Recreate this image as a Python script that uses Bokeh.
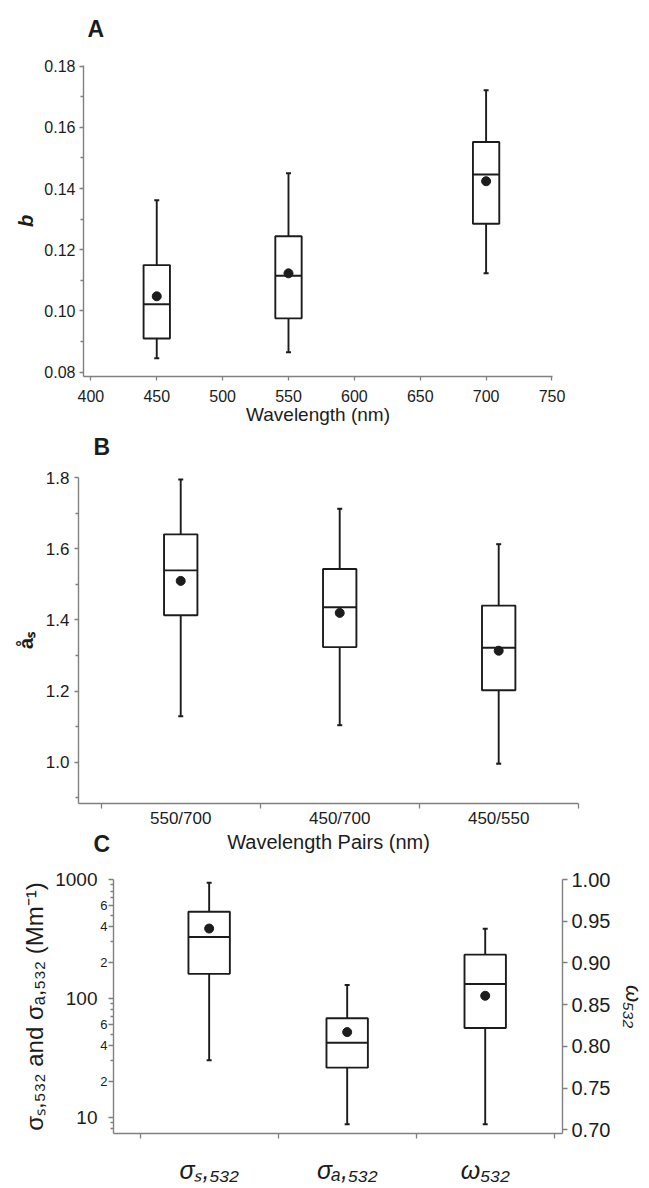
from bokeh.plotting import figure
from bokeh.models import (Range1d, FixedTicker, PrintfTickFormatter, Title,
                          LinearAxis, LogAxis, LinearScale, ColumnDataSource)
from bokeh.layouts import column
from bokeh.embed import file_html
from bokeh.resources import INLINE

# ---------------- data ----------------
# Panel A: backscatter fraction b by wavelength
a_wavelengths = [450, 550, 700]
a_low = [0.0846, 0.0865, 0.1123]
a_q1 = [0.0910, 0.0976, 0.1285]
a_median = [0.1022, 0.1115, 0.1446]
a_q3 = [0.1150, 0.1244, 0.1552]
a_high = [0.1362, 0.1450, 0.1721]
a_mean = [0.1048, 0.1123, 0.1424]
a_xticks = [400, 450, 500, 550, 600, 650, 700, 750]
a_yticks = [0.08, 0.10, 0.12, 0.14, 0.16, 0.18]
a_yminor = [0.09, 0.11, 0.13, 0.15, 0.17]

# Panel B: scattering Angstrom exponent by wavelength pair
b_pairs = ["550/700", "450/700", "450/550"]
b_low = [1.129, 1.104, 0.996]
b_q1 = [1.413, 1.3235, 1.2023]
b_median = [1.539, 1.4354, 1.3217]
b_q3 = [1.6403, 1.5427, 1.440]
b_high = [1.7945, 1.712, 1.6126]
b_mean = [1.5095, 1.4196, 1.3133]
b_yticks = [1.0, 1.2, 1.4, 1.6, 1.8]
b_yminor = [0.9, 1.1, 1.3, 1.5, 1.7]

# Panel C: scattering / absorption coefficients (Mm-1, log) and single scattering albedo
c_names = ["σₛ,₅₃₂", "σₐ,₅₃₂", "ω₅₃₂"]
c_sig_low = [30.2, 8.74]
c_sig_q1 = [161.0, 26.2]
c_sig_median = [329.0, 42.4]
c_sig_q3 = [536.0, 68.2]
c_sig_high = [938.0, 129.7]
c_sig_mean = [387.0, 52.1]
c_w_low = [0.7066]
c_w_q1 = [0.8220]
c_w_median = [0.8747]
c_w_q3 = [0.9099]
c_w_high = [0.941]
c_w_mean = [0.8606]
c_left_ticks = [10, 100, 1000]
c_left_small = [20, 40, 60, 200, 400, 600]
c_left_small_text = ["2", "4", "6", "2", "4", "6"]
c_left_minor = [8, 9, 30, 50, 70, 80, 90, 300, 500, 700, 800, 900]
c_right_ticks = [0.70, 0.75, 0.80, 0.85, 0.90, 0.95, 1.00]

# ---------------- style ----------------
FONT = "Liberation Sans"
AXIS_GRAY = "#808080"
INK = "#1c1c1c"
W = 649


def style_axis(ax, tick_size, label_size, tick_out=4, minor_out=3):
    ax.axis_line_color = AXIS_GRAY
    ax.axis_line_width = 1.4
    ax.major_tick_line_color = AXIS_GRAY
    ax.minor_tick_line_color = AXIS_GRAY
    ax.major_tick_line_width = 1.3
    ax.minor_tick_line_width = 1.3
    ax.major_tick_in = 0
    ax.minor_tick_in = 0
    ax.major_tick_out = tick_out
    ax.minor_tick_out = minor_out
    ax.major_label_text_font = FONT
    ax.major_label_text_font_size = f"{tick_size}px"
    ax.major_label_text_color = INK
    ax.axis_label_text_font = FONT
    ax.axis_label_text_font_size = f"{label_size}px"
    ax.axis_label_text_color = INK
    ax.axis_label_text_font_style = "normal"


def base_fig(height, left, right, top, bottom, shift, **kw):
    p = figure(width=W, height=height, output_backend="svg", toolbar_location=None,
               min_border_left=left, min_border_right=right,
               min_border_top=top, min_border_bottom=bottom, **kw)
    p.frame_align = False
    p.margin = (shift, 0, 0, 0)
    p.xgrid.visible = False
    p.ygrid.visible = False
    p.outline_line_color = None
    p.background_fill_color = "white"
    p.border_fill_alpha = 0
    return p


def draw_boxes(p, xs, width, low, q1, med, q3, high, mean, range_name=None):
    src = ColumnDataSource(dict(
        x=xs, left=[x - width / 2 for x in xs], right=[x + width / 2 for x in xs],
        low=low, q1=q1, med=med, q3=q3, high=high, mean=mean))
    kw = dict(source=src)
    if range_name:
        kw["y_range_name"] = range_name
    lw = 1.9
    p.segment(x0="x", y0="q3", x1="x", y1="high", line_color=INK, line_width=lw, **kw)
    p.segment(x0="x", y0="q1", x1="x", y1="low", line_color=INK, line_width=lw, **kw)
    p.quad(left="left", right="right", bottom="q1", top="q3", fill_color="white",
           line_color=INK, line_width=lw, **kw)
    p.segment(x0="left", y0="med", x1="right", y1="med", line_color=INK, line_width=lw, **kw)
    p.scatter(x="x", y="high", marker="dash", size=5, line_color=INK, line_width=2, **kw)
    p.scatter(x="x", y="low", marker="dash", size=5, line_color=INK, line_width=2, **kw)
    p.scatter(x="x", y="mean", marker="circle", size=9, fill_color=INK, line_color=INK, **kw)


def letter_title(p, text, offset, standoff):
    p.title = Title(text=text, align="left", offset=offset, standoff=standoff,
                    text_font=FONT, text_font_size="23px", text_font_style="bold",
                    text_color=INK)


# ---------------- panel A ----------------
# canvas -12 .. 440 ; frame 83..552 x 65..376
pa = base_fig(452, 83, 97, 77, 64, -12,
              x_range=Range1d(394.4, 750.4), y_range=Range1d(0.0786, 0.1802))
draw_boxes(pa, a_wavelengths, 20, a_low, a_q1, a_median, a_q3, a_high, a_mean)
xa = pa.xaxis[0]
ya = pa.yaxis[0]
xa.ticker = FixedTicker(ticks=a_xticks)
xa.formatter = PrintfTickFormatter(format="%d")
ya.ticker = FixedTicker(ticks=a_yticks, minor_ticks=a_yminor)
ya.formatter = PrintfTickFormatter(format="%.2f")
style_axis(xa, 16, 19)
style_axis(ya, 16, 20)
xa.major_label_standoff = 9
xa.axis_label_standoff = -1
xa.axis_label = "Wavelength (nm)"
ya.major_label_standoff = 4
ya.axis_label = "b"
ya.axis_label_text_font_style = "bold italic"
ya.axis_label_standoff = 4
letter_title(pa, "A", 4, 48)

# ---------------- panel B ----------------
# canvas 413 .. 865 ; frame 78..578 x 477..803
b_x = [i + 0.5 for i in range(len(b_pairs))]
pb = base_fig(452, 78, 71, 64, 62, -27,
              x_range=Range1d(-0.143, 3.002), y_range=Range1d(0.884, 1.8))
draw_boxes(pb, b_x, 0.21, b_low, b_q1, b_median, b_q3, b_high, b_mean)
xb = pb.xaxis[0]
yb = pb.yaxis[0]
xb.ticker = FixedTicker(ticks=b_x, minor_ticks=list(range(len(b_pairs) + 1)))
xb.major_label_overrides = {x: name for x, name in zip(b_x, b_pairs)}
yb.ticker = FixedTicker(ticks=b_yticks, minor_ticks=b_yminor)
yb.formatter = PrintfTickFormatter(format="%.1f")
style_axis(xb, 17, 20, tick_out=4, minor_out=5)
style_axis(yb, 17, 20)
xb.major_tick_line_color = None
xb.major_label_standoff = 0
xb.axis_label = "Wavelength Pairs (nm)"
xb.axis_label_standoff = 0
yb.major_label_standoff = 5
yb.axis_label = "åₛ"
yb.axis_label_text_font_style = "bold"
yb.axis_label_standoff = 6
letter_title(pb, "B", 15, 35)

# ---------------- panel C ----------------
# canvas 805 .. 1188 ; frame 113..562 x 879..1133
c_x = [i + 0.5 for i in range(len(c_names))]
pc = base_fig(383, 113, 87, 74, 55, -60,
              x_range=Range1d(-0.193, 3.06), y_range=Range1d(7.32, 1000),
              y_axis_type="log")
pc.extra_y_ranges = {"omega": Range1d(0.6955, 1.0)}
pc.extra_y_scales = {"omega": LinearScale()}
draw_boxes(pc, c_x[:2], 0.3, c_sig_low, c_sig_q1, c_sig_median, c_sig_q3,
           c_sig_high, c_sig_mean)
draw_boxes(pc, c_x[2:], 0.3, c_w_low, c_w_q1, c_w_median, c_w_q3,
           c_w_high, c_w_mean, range_name="omega")
xc = pc.xaxis[0]
yc = pc.yaxis[0]
xc.ticker = FixedTicker(ticks=c_x, minor_ticks=list(range(len(c_names) + 1)))
xc.major_label_overrides = {x: name for x, name in zip(c_x, c_names)}
style_axis(xc, 25, 20, tick_out=5, minor_out=5)
xc.major_tick_line_color = None
xc.major_label_standoff = 17
xc.major_label_text_font_style = "italic"
# inner left axis: all ticks, small labels 2,4,6
yc.ticker = FixedTicker(ticks=c_left_ticks + c_left_small, minor_ticks=c_left_minor)
yc.major_label_overrides = dict(
    [(v, "") for v in c_left_ticks] + list(zip(c_left_small, c_left_small_text)))
style_axis(yc, 13, 24, tick_out=5, minor_out=3)
yc.major_label_standoff = 1
# outer left axis: big labels 10,100,1000 and the axis title
yc2 = LogAxis(ticker=FixedTicker(ticks=c_left_ticks),
              formatter=PrintfTickFormatter(format="%d"),
              axis_label="σₛ,₅₃₂ and σₐ,₅₃₂ (Mm⁻¹)")
style_axis(yc2, 19, 24, tick_out=0, minor_out=0)
yc2.axis_line_color = None
yc2.major_tick_line_color = None
yc2.minor_tick_line_color = None
yc2.major_label_standoff = 0
yc2.axis_label_standoff = 4
pc.add_layout(yc2, "left")
rc = LinearAxis(y_range_name="omega", ticker=FixedTicker(ticks=c_right_ticks),
                formatter=PrintfTickFormatter(format="%.2f"), axis_label="ω₅₃₂")
style_axis(rc, 20, 22, tick_out=5)
rc.major_label_standoff = 4
rc.axis_label_standoff = 8
rc.axis_label_text_font_style = "italic"
pc.add_layout(rc, "right")
letter_title(pc, "C", -20, 45)

layout = column(pa, pb, pc, spacing=0)
open("out.html", "w").write(file_html(layout, INLINE))
